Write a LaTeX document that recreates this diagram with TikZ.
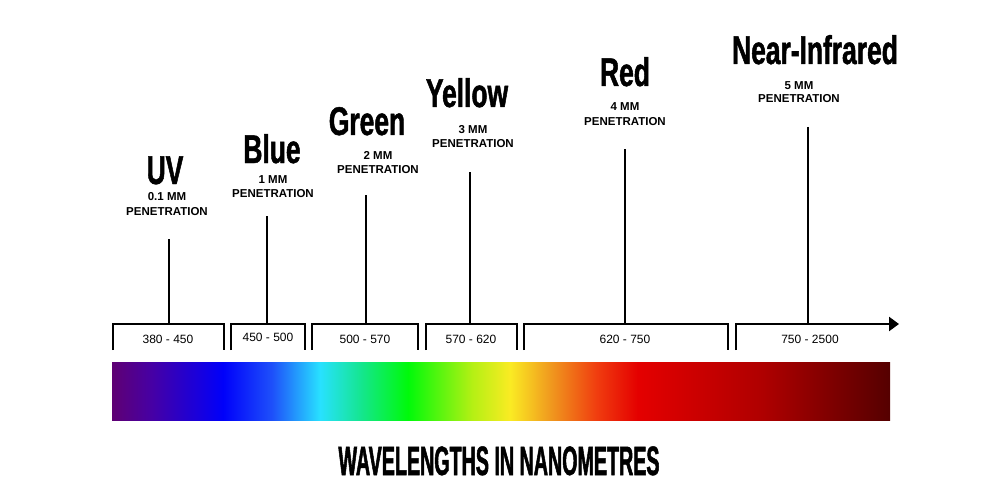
\documentclass[tikz,border=0pt]{standalone}
\usepackage{fontspec}
\setmainfont{Liberation Sans}
\newfontfamily\titlefont[FakeStretch=0.66,FakeBold=1.2]{Liberation Sans Bold}
\newfontfamily\bottomfont[FakeStretch=0.48,FakeBold=1.2]{Liberation Sans Bold}
\usetikzlibrary{arrows.meta}
\definecolor{s0}{RGB}{95,0,115}
\definecolor{s1}{RGB}{70,0,165}
\definecolor{s2}{RGB}{0,0,250}
\definecolor{s3}{RGB}{30,80,250}
\definecolor{s4}{RGB}{40,225,255}
\definecolor{s5}{RGB}{20,230,140}
\definecolor{s6}{RGB}{0,250,10}
\definecolor{s7}{RGB}{180,240,20}
\definecolor{s8}{RGB}{250,235,35}
\definecolor{s9}{RGB}{240,150,30}
\definecolor{s10}{RGB}{240,60,15}
\definecolor{s11}{RGB}{228,0,0}
\definecolor{s12}{RGB}{175,0,0}
\definecolor{s13}{RGB}{85,0,0}
\pgfdeclarehorizontalshading{spectrum}{100bp}{color(0bp)=(s0); color(25bp)=(s0); color(27.57bp)=(s1); color(32.13bp)=(s2); color(35.28bp)=(s3); color(38.37bp)=(s4); color(41.07bp)=(s5); color(44.02bp)=(s6); color(48.14bp)=(s7); color(50.58bp)=(s8); color(53.28bp)=(s9); color(56.17bp)=(s10); color(58.80bp)=(s11); color(66.77bp)=(s12); color(75bp)=(s13); color(100bp)=(s13)}
\tikzset{
  ttl/.style={inner sep=0pt, anchor=base, font=\titlefont\fontsize{40}{40}\selectfont},
  sub/.style={inner sep=0pt, anchor=base, font=\bfseries\fontsize{11.5}{12}\selectfont},
  rng/.style={inner sep=0pt, anchor=base, font=\fontsize{12}{12}\selectfont},
  bracket/.style={line width=2.4pt, black},
  stem/.style={line width=2.2pt, black},
}
\begin{document}
\begin{tikzpicture}[x=1pt,y=-1pt]
\useasboundingbox (0,0) rectangle (990,500);
% spectrum bar
\shade[shading=spectrum] (112,362) rectangle (890,420);
% titles
\node[ttl] (uv) at (165,184) {UV};
\node[ttl] (blue) at (272,163) {Blue};
\node[ttl] (green) at (367,135) {Green};
\node[ttl] (yellow) at (467,107) {Yellow};
\node[ttl] (red) at (625,86) {Red};
\node[ttl] (nir) at (815,64) {Near-Infrared};
% subtitles
\node[sub] (uvmm) at (167,200) {0.1 MM};
\node[sub] (uvpen) at (167,215) {PENETRATION};
\node[sub] (bluemm) at (273,183) {1 MM};
\node[sub] (bluepen) at (273,197) {PENETRATION};
\node[sub] (greenmm) at (378,159) {2 MM};
\node[sub] (greenpen) at (378,173) {PENETRATION};
\node[sub] (yellowmm) at (473,134) {3 MM};
\node[sub] (yellowpen) at (473,147) {PENETRATION};
\node[sub] (redmm) at (625,111) {4 MM};
\node[sub] (redpen) at (625,125) {PENETRATION};
\node[sub] (nirmm) at (799,90) {5 MM};
\node[sub] (nirpen) at (799,103) {PENETRATION};
% brackets
\draw[bracket] (113,350) -- (113,324) -- (224,324) -- (224,350);
\draw[bracket] (231,350) -- (231,324) -- (305,324) -- (305,350);
\draw[bracket] (312,350) -- (312,324) -- (418,324) -- (418,350);
\draw[bracket] (426,350) -- (426,324) -- (517,324) -- (517,350);
\draw[bracket] (524,350) -- (524,324) -- (728,324) -- (728,350);
\coordinate (arrowend) at (899,324);
\draw[bracket, -{Triangle[length=10pt,width=14pt]}] (736,350) -- (736,324) -- (arrowend);
% range labels
\node[rng] (r1) at (168,343) {380 - 450};
\node[rng] (r2) at (268,341.5) {450 - 500};
\node[rng] (r3) at (365,343) {500 - 570};
\node[rng] (r4) at (471,343) {570 - 620};
\node[rng] (r5) at (625,343) {620 - 750};
\node[rng] (r6) at (810,343) {750 - 2500};
% stems
\coordinate (uvt) at (169,239);   \coordinate (uvb) at (169,324);
\coordinate (bluet) at (267,216); \coordinate (blueb) at (267,324);
\coordinate (greent) at (366,195); \coordinate (greenb) at (366,324);
\coordinate (yellowt) at (470,172); \coordinate (yellowb) at (470,324);
\coordinate (redt) at (625,149); \coordinate (redb) at (625,324);
\coordinate (nirt) at (808,127); \coordinate (nirb) at (808,324);
\draw[stem] (uvt) -- (uvb);
\draw[stem] (bluet) -- (blueb);
\draw[stem] (greent) -- (greenb);
\draw[stem] (yellowt) -- (yellowb);
\draw[stem] (redt) -- (redb);
\draw[stem] (nirt) -- (nirb);
% bottom title
\node[inner sep=0pt, anchor=base, font=\bottomfont\fontsize{41}{41}\selectfont] (axis) at (499,475) {WAVELENGTHS IN NANOMETRES};
\end{tikzpicture}
\end{document}
